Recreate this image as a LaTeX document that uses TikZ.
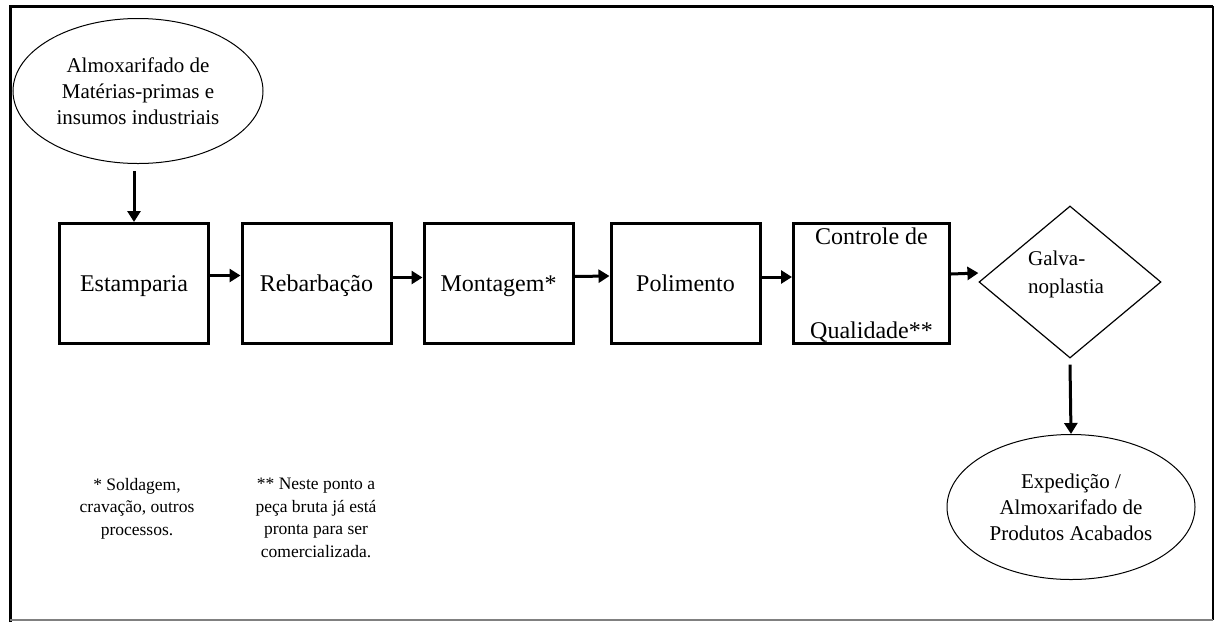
\documentclass[tikz,border=0pt]{standalone}
\usepackage{fontspec}
\setmainfont{Liberation Serif}
\usetikzlibrary{shapes.geometric,arrows.meta,calc}

\begin{document}
\begin{tikzpicture}[x=1pt,y=-1pt,
        font=\fontsize{21}{26}\selectfont,
        etapa/.style={draw,line width=3pt,minimum width=149pt,minimum height=120pt,inner sep=0pt,
          font=\fontsize{24}{28}\selectfont,text depth=0pt},
        almox/.style={draw,ellipse,line width=1pt,minimum width=250pt,minimum height=145pt,inner sep=0pt,align=center},
        decisao/.style={draw,diamond,line width=1.2pt,minimum width=182pt,minimum height=152pt,inner sep=0pt},
        nota/.style={font=\fontsize{17.5}{22.5}\selectfont,align=center,inner sep=0pt,anchor=north},
        fluxo/.style={line width=3pt,-{Triangle[length=11pt,width=13pt]}}]
        \useasboundingbox (0,0) rectangle (1215,622);
        % moldura
        \draw[line width=3pt] (10,622) -- (10,6) -- (1213,6);
        \draw[line width=1.2pt] (1213,6) -- (1213,620);
        \draw[line width=1.5pt,gray] (10,620) -- (1213,620);

        \node[almox] (alm) at (138,91) {Almoxarifado de\\Matérias-primas e\\insumos industriais};
        \node[etapa] (est) at (134,283.5) {Estamparia};
        \node[etapa] (reb) at (316.5,283.5) {Rebarbação};
        \node[etapa] (mon) at (498.5,283.5) {Montagem*};
        \node[etapa] (pol) at (685.5,283) {Polimento};
        \node[etapa,minimum width=156pt,align=center] (ctrl) at (871.5,283) {Controle de\\[66pt]Qualidade**};
        \node[decisao] (dia) at (1070,282) {};
        \node[align=left,inner sep=0pt] (galv) at (1066,274) {Galva-\\[2pt]noplastia};
        \node[almox,minimum width=248pt] (exp) at (1071,507) {Expedição /\\Almoxarifado de\\Produtos Acabados};

        \node[nota] (nota1) at (137,478) {* Soldagem,\\cravação, outros\\processos.};
        \node[nota] (nota2) at (316,478) {** Neste ponto a\\peça bruta já está\\pronta para ser\\comercializada.};

        \path[fluxo]
          ($(est.north |- alm.south)+(0,7)$) edge (est.north)
          ([yshift=8pt]est.east) edge ([yshift=8pt]reb.west)
          ([yshift=6pt]reb.east) edge ([yshift=6pt]mon.west)
          ([yshift=7pt]mon.east) edge ([yshift=7pt]pol.west)
          ([yshift=6pt]pol.east) edge ([yshift=6pt]ctrl.west)
          ([yshift=9pt]ctrl.east) edge ([yshift=9pt]dia.west)
          ($(dia.south)+(0,6)$) edge (exp.north)
          ;
\end{tikzpicture}
\end{document}
